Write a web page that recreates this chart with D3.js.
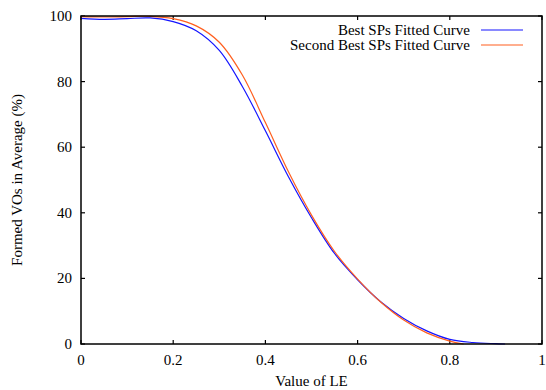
<!DOCTYPE html>
<html>
<head>
<meta charset="utf-8">
<script src="https://cdn.jsdelivr.net/npm/d3@7"></script>
<style>
  body { margin: 0; background: #fff; }
</style>
</head>
<body>
<svg id="chart"></svg>
<script>
// Data
var xBest = [0, 0.05, 0.1, 0.15, 0.2, 0.25, 0.3, 0.35, 0.4, 0.45, 0.5, 0.55, 0.6, 0.65, 0.7, 0.75, 0.8, 0.85, 0.9, 0.92];
var yBest = [99.3, 99.0, 99.2, 99.4, 98.3, 95.5, 89.5, 78.5, 65.0, 51.0, 38.5, 27.6, 19.6, 12.9, 7.8, 4.0, 1.4, 0.45, 0.1, 0];
var xSecond = [0, 0.05, 0.1, 0.15, 0.2, 0.25, 0.3, 0.35, 0.4, 0.45, 0.5, 0.55, 0.6, 0.65, 0.7, 0.75, 0.8, 0.83];
var ySecond = [99.8, 99.7, 99.8, 99.9, 99.2, 97.0, 92.0, 82.0, 67.5, 52.5, 39.3, 28.2, 19.8, 12.8, 7.3, 3.4, 0.9, 0];
var xTicks = [0, 0.2, 0.4, 0.6, 0.8, 1];
var yTicks = [0, 20, 40, 60, 80, 100];
var seriesNames = ["Best SPs Fitted Curve", "Second Best SPs Fitted Curve"];
var seriesColours = ["#1414ff", "#ff5f1f"];

var width = 546, height = 390;
var margin = {left: 81, right: 4, top: 16, bottom: 46};
var serif = "'Liberation Serif', 'Times New Roman', 'DejaVu Serif', serif";

var svg = d3.select("#chart")
    .attr("width", width)
    .attr("height", height)
    .attr("font-family", serif)
    .attr("font-size", 15);

var x = d3.scaleLinear().domain([0, 1]).range([margin.left, width - margin.right]);
var y = d3.scaleLinear().domain([0, 100]).range([height - margin.bottom, margin.top]);

var tickLen = 4;

// Tick marks (inward, mirrored on top and right)
var ticks = svg.append("g").attr("stroke", "#000").attr("stroke-width", 1.2);
xTicks.forEach(function (t) {
    ticks.append("line").attr("x1", x(t)).attr("x2", x(t))
        .attr("y1", y(0)).attr("y2", y(0) - tickLen);
    ticks.append("line").attr("x1", x(t)).attr("x2", x(t))
        .attr("y1", y(100)).attr("y2", y(100) + tickLen);
});
yTicks.forEach(function (t) {
    ticks.append("line").attr("x1", x(0)).attr("x2", x(0) + tickLen)
        .attr("y1", y(t)).attr("y2", y(t));
    ticks.append("line").attr("x1", x(1)).attr("x2", x(1) - tickLen)
        .attr("y1", y(t)).attr("y2", y(t));
});

// Tick labels
svg.append("g").selectAll("text")
    .data(xTicks).enter().append("text")
    .attr("x", function (d) { return x(d); })
    .attr("y", y(0) + 21)
    .attr("text-anchor", "middle")
    .text(function (d) { return d; });

svg.append("g").selectAll("text")
    .data(yTicks).enter().append("text")
    .attr("x", x(0) - 9)
    .attr("y", function (d) { return y(d) + 5; })
    .attr("text-anchor", "end")
    .text(function (d) { return d; });

// Axis titles
svg.append("text")
    .attr("x", (x(0) + x(1)) / 2)
    .attr("y", height - 4)
    .attr("text-anchor", "middle")
    .text("Value of LE");

svg.append("text")
    .attr("transform", "translate(22," + y(50) + ") rotate(-90)")
    .attr("text-anchor", "middle")
    .text("Formed VOs in Average (%)");

// Curves
var line = d3.line()
    .x(function (d) { return x(d[0]); })
    .y(function (d) { return y(d[1]); })
    .curve(d3.curveCatmullRom);

var series = [d3.zip(xBest, yBest), d3.zip(xSecond, ySecond)];

series.forEach(function (pts, i) {
    svg.append("path")
        .datum(pts)
        .attr("d", line)
        .attr("fill", "none")
        .attr("stroke", seriesColours[i])
        .attr("stroke-width", 1.2);
});

// Frame
svg.append("rect")
    .attr("x", x(0)).attr("y", y(100))
    .attr("width", x(1) - x(0)).attr("height", y(0) - y(100))
    .attr("fill", "none")
    .attr("stroke", "#000")
    .attr("stroke-width", 1.5);

// Legend
var legend = svg.append("g");
seriesNames.forEach(function (name, i) {
    var ly = 30 + i * 15;
    legend.append("text")
        .attr("x", 470).attr("y", ly + 5)
        .attr("text-anchor", "end")
        .text(name);
    legend.append("line")
        .attr("x1", 481).attr("x2", 523)
        .attr("y1", ly).attr("y2", ly)
        .attr("stroke", seriesColours[i])
        .attr("stroke-width", 1.2);
});
</script>
</body>
</html>
